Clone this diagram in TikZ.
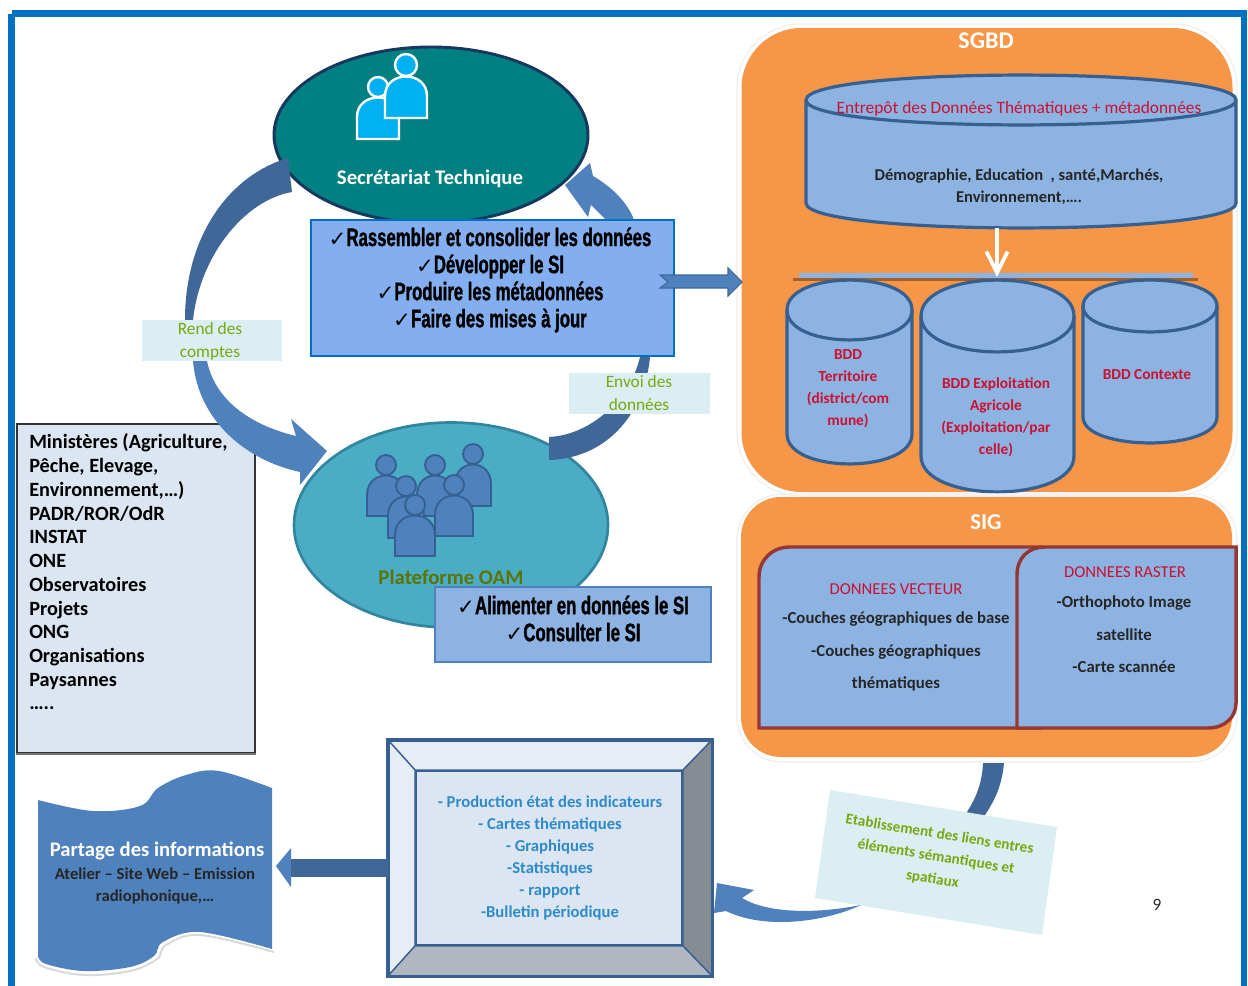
\documentclass[tikz,border=0pt]{standalone}
\usepackage{fontspec}
\setmainfont{Carlito}
\newfontfamily\dv{DejaVu Sans}
\newfontfamily\heavyf[FakeStretch=0.66,FakeBold=1.2]{Liberation Sans}
\usetikzlibrary{shapes.geometric,arrows.meta}
\definecolor{frameblue}{HTML}{0070C0}
\definecolor{teal1}{HTML}{008080}
\definecolor{navy1}{HTML}{17375E}
\definecolor{oamfill}{HTML}{4BACC6}
\definecolor{oamline}{HTML}{31859C}
\definecolor{boxblue}{HTML}{83AFF0}
\definecolor{lightblue}{HTML}{8DB3E2}
\definecolor{midblue}{HTML}{4F81BD}
\definecolor{darkblue}{HTML}{3F6797}
\definecolor{edgeblue}{HTML}{366092}
\definecolor{paleblue}{HTML}{DCE6F2}
\definecolor{labelfill}{HTML}{DBEEF4}
\definecolor{labelgreen}{HTML}{77A80F}
\definecolor{orange1}{HTML}{F79646}
\definecolor{redtext}{HTML}{CC1030}
\definecolor{panelred}{HTML}{953735}
\definecolor{prodblue}{HTML}{2E8BC9}
\definecolor{cyan1}{HTML}{00B0F0}
\definecolor{bevelright}{HTML}{858C93}
\definecolor{bevelbottom}{HTML}{B0B7C0}
\definecolor{bevellight}{HTML}{E6EDF5}
\definecolor{oamtextc}{HTML}{5B7500}
\newcommand{\fs}[2]{\fontsize{#1pt}{#2pt}\selectfont}
\newcommand{\ck}{{\dv\bfseries\fontsize{16pt}{16pt}\selectfont ✓}}
\newcommand{\dbcyl}[5]{% x1 x2 ycTop ycBot ry
  \filldraw[dbline] (#1,#3) -- (#1,#4) .. controls (#1,#4+#5*1.33) and (#2,#4+#5*1.33) .. (#2,#4) -- (#2,#3)
     .. controls (#2,#3-#5*1.33) and (#1,#3-#5*1.33) .. (#1,#3) -- cycle;
  \draw[dbline,fill=none] (#1,#3) .. controls (#1,#3+#5*1.33) and (#2,#3+#5*1.33) .. (#2,#3);
}
\newcommand{\person}[8]{% fill, line, linewidth, head x, head y, r, torso half width, torso bottom
  \filldraw[fill=#1,draw=#2,line width=#3] (#4,#5) circle [radius=#6*0.75pt];
  \filldraw[fill=#1,draw=#2,line width=#3] (#4-#7,#8) -- (#4-#7,#5+#6+20) .. controls (#4-#7,#5+#6-6) and (#4+#7,#5+#6-6) .. (#4+#7,#5+#6+20) -- (#4+#7,#8) -- cycle;
}
\tikzset{
  dbline/.style={fill=lightblue,draw=edgeblue,line width=2.4pt},
  labelbox/.style={fill=labelfill,draw=none,inner sep=0pt},
  greentext/.style={text=labelgreen,align=center,font=\fs{13}{17}},
  heavytext/.style={align=center,text=black,font=\heavyf\bfseries\fs{19}{20.3}},
  redlabel/.style={text=redtext,align=center,font=\bfseries\fs{11.5}{16.4}},
  blockdark/.style={fill=darkblue,draw=none},
  blockmid/.style={fill=midblue,draw=none},
  panel/.style={fill=lightblue,draw=panelred,line width=2.6pt},
  darktext/.style={text=black!85,align=center},
}
\begin{document}
\begin{tikzpicture}[x=0.75pt,y=-0.75pt]
\useasboundingbox (0,0) rectangle (1248,985);
\fill[white] (0,0) rectangle (1248,985);
% outer frame
\draw[frameblue,line width=5.2pt] (11.5,13.5) -- (1244,13.5) -- (1244,995) (11.5,13.5) -- (11.5,995);

% ellipses
\node (st) [ellipse,fill=teal1,draw=navy1,line width=2.2pt,inner sep=0pt,minimum width=314*0.75pt,minimum height=176*0.75pt] at (431,135) {};
\node (oam) [ellipse,fill=oamfill,draw=oamline,line width=2pt,inner sep=0pt,minimum width=314*0.75pt,minimum height=205*0.75pt] at (451,525) {};

% people (Secretariat)
\person{cyan1}{white}{1.8pt}{378}{87}{10}{21}{139}
\person{cyan1}{white}{1.8pt}{406}{65}{11}{21}{118}
\node (sttext) [text=white,font=\bfseries\fs{15.6}{15.6}] at (430,179) {Secrétariat Technique};

% people (OAM)
\person{midblue}{edgeblue}{1.4pt}{386}{465}{10}{19}{516}
\person{midblue}{edgeblue}{1.4pt}{435}{465}{10}{18}{516}
\person{midblue}{edgeblue}{1.4pt}{473}{454}{10}{18}{506}
\person{midblue}{edgeblue}{1.4pt}{406}{486}{10}{18}{538}
\person{midblue}{edgeblue}{1.4pt}{454}{485}{10}{19}{536}
\person{midblue}{edgeblue}{1.4pt}{415}{505}{10}{20}{556}
\node (oamtext) [text=oamtextc,font=\bfseries\fs{15.6}{15.6}] at (451,577) {Plateforme OAM};

% Ministeres box
\node (minbox) [fill=paleblue,draw=black!80,line width=0.9pt,minimum width=238*0.75pt,minimum height=329*0.75pt,inner sep=0pt] at (136,588.5) {};
\draw[black!55,line width=1.5pt] (minbox.south west) -- (minbox.south east);
\node (mintext) [anchor=west,inner sep=0pt,align=left,text=black,font=\bfseries\fs{15.2}{17.8}] at (29,572) {Ministères (Agriculture,\\Pêche, Elevage,\\Environnement,…)\\PADR/ROR/OdR\\INSTAT\\ONE\\Observatoires\\Projets\\ONG\\Organisations\\Paysannes\\…..};

% curved arrows around the cycle
\coordinate (cbot) at (327,451);
\fill[blockdark] (288,158) .. controls (230,175) and (185,235) .. (185,320) -- (193,320) .. controls (200,255) and (245,200) .. (292,192) -- cycle;
\fill[blockmid] (193,361) .. controls (198,420) and (245,460) .. (300,472) -- (300,485) -- (cbot) -- (291,419) -- (296,436) .. controls (250,425) and (215,400) .. (207,361) -- cycle;
\fill[blockdark] (650,357) .. controls (645,410) and (610,458) .. (549,460) -- (549,437) .. controls (590,435) and (630,400) .. (640,357) -- cycle;
\coordinate (rtip) at (565,185);
\fill[blockmid] (590,163) -- (rtip) -- (588,217) -- (591,205) -- (606,220) -- (634,220) .. controls (628,203) and (612,187) .. (593,176) -- cycle;

% main blue box
\node (mainbox) [fill=boxblue,draw=frameblue,line width=2pt,inner sep=0pt,minimum width=363*0.75pt,minimum height=136*0.75pt] at (492.5,288) {};
\node (maintext) [heavytext] at (490,280) {\ck Rassembler et consolider les données\\\ck Développer le SI\\\ck Produire les métadonnées\\\ck Faire des mises à jour};

% labels
\node (rendbox) [labelbox,minimum width=140*0.75pt,minimum height=41*0.75pt] at (212,340.5) {};
\node (rendtext) [greentext] at (210,341.5) {Rend des\\comptes};
\node (envbox) [labelbox,minimum width=141*0.75pt,minimum height=41*0.75pt] at (639.5,393.5) {};
\node (envtext) [greentext] at (639,393) {Envoi des\\données};

% OAM task box
\node (oambox) [fill=lightblue,draw=midblue,line width=2pt,inner sep=0pt,minimum width=276*0.75pt,minimum height=75*0.75pt] at (573,624.5) {};
\node (oamtasks) [heavytext] at (573,618.5) {\ck Alimenter en données le SI\\\ck Consulter le SI};

% SGBD
\draw[black!7,line width=0.8pt,rounded corners=48pt] (737,24) rectangle (1237,496);
\node (sgbd) [fill=orange1,draw=none,rounded corners=45pt,inner sep=0pt,minimum width=491*0.75pt,minimum height=464*0.75pt] at (987,260) {};
\node (sgbdtitle) [text=white,font=\bfseries\fs{18}{18}] at (986,41) {SGBD};

% connector to SGBD
\coordinate (arrowtail) at (668,282);
\coordinate (arrowtip) at (742,282);
\filldraw[fill=midblue,draw=darkblue,line width=0.8pt] (arrowtail) -- (660,275) -- (728,275) -- (728,268) -- (arrowtip) -- (728,296) -- (728,288) -- (660,288) -- cycle;

\dbcyl{806}{1236}{100}{203}{25}
\node (wh) [text=redtext,align=center,font=\fs{13}{13}] at (1019,109) {Entrepôt des Données Thématiques + métadonnées};
\node (whtext) [darktext,font=\bfseries\fs{12.4}{16.5}] at (1019,187) {Démographie, Education\ \ , santé,Marchés,\\Environnement,….};

\fill[black!35!orange1] (793,278) rectangle (1198,280.5);
\node (bar) [fill=lightblue,draw=none,inner sep=0pt,minimum width=394*0.75pt,minimum height=5*0.75pt] at (996,275.5) {};
\coordinate (whbottom) at (997,228);
\coordinate (bartop) at (997,277);

\dbcyl{787}{912}{310}{434}{30}
\dbcyl{921}{1074}{316}{456}{36}
\dbcyl{1083}{1217}{306}{417}{26}
\draw[white,line width=3.6pt,-{Straight Barb[length=16pt,width=16pt,line width=2.8pt]}] (whbottom) -- (bartop);
\node (db1) [redlabel] at (848,388.5) {\textbf{BDD}\\Territoire\\(district/com\\mune)};
\node (db2) [redlabel] at (996,417.5) {BDD Exploitation\\Agricole\\(Exploitation/par\\celle)};
\node (db3) [redlabel] at (1147,375) {BDD Contexte};

% SIG
\draw[black!7,line width=0.8pt,rounded corners=34pt] (737,494) rectangle (1237,762);
\node (sig) [fill=orange1,draw=none,rounded corners=30pt,inner sep=0pt,minimum width=491*0.75pt,minimum height=260*0.75pt] at (986.5,627) {};
\node (sigtitle) [text=white,font=\bfseries\fs{17}{17}] at (986,522) {SIG};

\filldraw[panel] (759,728) -- (759,577) .. controls (759,560) and (772,547) .. (790,547) -- (1040,547) -- (1040,728) -- cycle;
\filldraw[panel] (1017,728) -- (1017,575) .. controls (1017,558) and (1028,547) .. (1045,547) -- (1236,547) -- (1236,703) .. controls (1236,717) and (1225,728) .. (1208,728) -- cycle;
\node (vec) [text=redtext,font=\fs{12.5}{12.5}] at (896,589) {DONNEES VECTEUR};
\node (vectext) [darktext,font=\bfseries\fs{12.6}{24.4}] at (896,651.5) {-Couches géographiques\ de base\\-Couches géographiques\\thématiques};
\node (ras) [text=redtext,font=\fs{12.5}{12.5}] at (1125,572) {DONNEES RASTER};
\node (rastext) [darktext,font=\bfseries\fs{12.6}{24.4}] at (1124,634.5) {-Orthophoto Image\\satellite\\-Carte scannée};

% link from SIG
\fill[blockdark] (983,763) -- (1004,763) .. controls (1002,785) and (995,800) .. (985,815) -- (965,815) .. controls (975,800) and (982,785) .. (983,763) -- cycle;
\filldraw[fill=labelfill,draw=none] (830,790) -- (1057,827) -- (1042,935) -- (815,898) -- cycle;
\node (linktext) [rotate=-9.2,text=labelgreen,align=center,font=\bfseries\fs{11.4}{17}] at (936,857) {Etablissement des liens entres\\éléments sémantiques et\\spatiaux};

% bevel frame
\node (frame) [fill=paleblue,draw=edgeblue,line width=2.4pt,inner sep=0pt,minimum width=321*0.75pt,minimum height=233*0.75pt] at (550,858) {};
\filldraw[fill=bevellight,draw=edgeblue,line width=1pt] (388,740) -- (712,740) -- (683,770) -- (415,770) -- cycle;
\filldraw[fill=bevellight,draw=edgeblue,line width=1pt] (388,740) -- (415,770) -- (415,946) -- (388,976) -- cycle;
\filldraw[fill=bevelright,draw=edgeblue,line width=1pt] (712,740) -- (683,770) -- (683,946) -- (712,976) -- cycle;
\filldraw[fill=bevelbottom,draw=edgeblue,line width=1pt] (388,976) -- (415,946) -- (683,946) -- (712,976) -- cycle;
\node (prod) [fill=paleblue,draw=edgeblue,line width=1.9pt,inner sep=0pt,minimum width=266*0.75pt,minimum height=174*0.75pt] at (549,858) {};
\draw[edgeblue,line width=2.4pt] (frame.north west) rectangle (frame.south east);
\node (prodtext) [text=prodblue,align=center,font=\bfseries\fs{12.5}{16.6}] at (550,858) {- Production état des indicateurs\\- Cartes thématiques\\- Graphiques\\-Statistiques\\- rapport\\-Bulletin périodique};

% link arrow to frame
\coordinate (linkstart) at (861,905);
\coordinate (linktip) at (714,913);
\fill[blockmid] (linkstart) .. controls (825,922) and (765,930) .. (726,911) -- (linktip) -- (717,883) -- (754,890) -- (742,898) .. controls (765,912) and (810,915) .. (linkstart) -- cycle;

% share arrow
\coordinate (sharetip) at (276,866);
\fill[blockdark] (frame.west |- 0,859) -- (291,859) -- (291,877) -- (frame.west |- 0,877) -- cycle;
\fill[blockmid] (291,848) -- (sharetip) -- (291,887) -- cycle;

% partage shape
\filldraw[fill=midblue,draw=none] plot[smooth,tension=.6] coordinates {(38,800) (93,811) (140,806) (158,788) (186,775) (219,771) (272,788)} -- plot[smooth,tension=.6] coordinates {(272,949) (200,932) (163,942) (154,956) (130,967) (84,971) (46,964) (38,956)} -- cycle;
\draw[black!15,line width=1.5pt] plot[smooth,tension=.6] coordinates {(274,952) (200,935) (166,945) (157,959) (130,971) (84,975) (44,967) (36,958)};
\node (share) [text=white,font=\bfseries\fs{15.5}{15.5}] at (157,851) {Partage des informations};
\node (sharetext) [text=black!85,align=center,font=\bfseries\fs{12.5}{17}] at (155,886) {Atelier – Site Web – Emission\\radiophonique,…};

\node (pagenum) [text=black!85,font=\fs{13}{13}] at (1157,905) {9};
\end{tikzpicture}
\end{document}
